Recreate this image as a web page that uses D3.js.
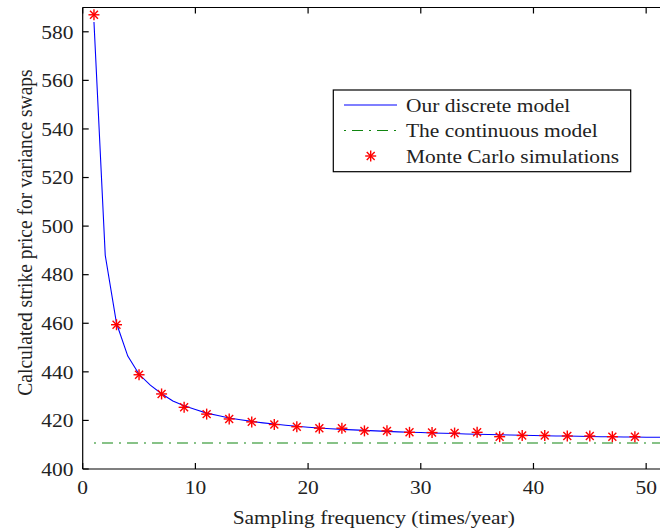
<!DOCTYPE html>
<html>
<head>
<meta charset="utf-8">
<script src="https://cdn.jsdelivr.net/npm/d3@7"></script>
<style>
  body { margin: 0; background: #fff; }
  text { font-family: "Liberation Serif", "Times New Roman", serif; fill: #222; }
</style>
</head>
<body>
<svg id="chart" width="660" height="532"></svg>
<script>
// discrete model, one value per sampling frequency 1..52
var discreteFreq = d3.range(1, 53);
var discreteVals = [584, 488, 460, 446.5, 439, 434.5, 431, 428, 426, 424.5,
  423, 422, 421, 420.3, 419.6, 419, 418.5, 418, 417.6, 417.2,
  416.9, 416.6, 416.3, 416.1, 415.9, 415.7, 415.5, 415.3, 415.1, 415,
  414.8, 414.7, 414.6, 414.4, 414.3, 414.2, 414.1, 414, 413.9, 413.8,
  413.7, 413.6, 413.6, 413.5, 413.4, 413.3, 413.3, 413.2, 413.2, 413.1,
  413.1, 413.0];

// continuous model (flat)
var continuousFreq = [1, 52];
var continuousVals = [410.7, 410.7];

// Monte Carlo simulations at odd frequencies
var mcFreq = [1, 3, 5, 7, 9, 11, 13, 15, 17, 19, 21, 23, 25, 27, 29, 31, 33, 35, 37, 39, 41, 43, 45, 47, 49];
var mcVals = [587, 459.4, 438.8, 430.9, 425.4, 422.6, 420.6, 419.4, 418.3, 417.4,
  416.8, 416.8, 415.7, 415.7, 415.1, 415.0, 414.8, 415.1, 413.3, 413.8,
  413.8, 413.6, 413.6, 413.3, 413.3];

var xTicks = [0, 10, 20, 30, 40, 50];
var yTicks = [400, 420, 440, 460, 480, 500, 520, 540, 560, 580];

var legendLabels = ["Our discrete model", "The continuous model", "Monte Carlo simulations"];

var svg = d3.select("#chart");
var plotLeft = 82.7, plotRight = 668.7, plotTop = 7.5, plotBottom = 469;
var stretch = 1.1; // picture is a little wider than tall

var x = d3.scaleLinear().domain([0, 52]).range([plotLeft, plotRight]);
var y = d3.scaleLinear().domain([400, 590]).range([plotBottom, plotTop]);

svg.append("rect").attr("width", 660).attr("height", 532).attr("fill", "#fff");

svg.append("defs").append("clipPath").attr("id", "plotclip")
  .append("rect").attr("x", plotLeft).attr("y", plotTop)
  .attr("width", plotRight - plotLeft).attr("height", plotBottom - plotTop);

var plot = svg.append("g").attr("clip-path", "url(#plotclip)");

var line = d3.line()
  .x(function (d) { return x(d[0]); })
  .y(function (d) { return y(d[1]); });

// continuous model
plot.append("path")
  .datum(d3.zip(continuousFreq, continuousVals))
  .attr("d", line)
  .attr("fill", "none")
  .attr("stroke", "#108510")
  .attr("stroke-width", 1.1)
  .attr("stroke-dasharray", "2,6,11,6");

// discrete model
plot.append("path")
  .datum(d3.zip(discreteFreq, discreteVals))
  .attr("d", line)
  .attr("fill", "none")
  .attr("stroke", "#0000ff")
  .attr("stroke-width", 1.1);

// asterisk marker
function star(g, r) {
  var a = r * 0.72;
  g.append("line").attr("x1", -r).attr("x2", r).attr("y1", 0).attr("y2", 0);
  g.append("line").attr("x1", 0).attr("x2", 0).attr("y1", -r).attr("y2", r);
  g.append("line").attr("x1", -a).attr("x2", a).attr("y1", -a).attr("y2", a);
  g.append("line").attr("x1", -a).attr("x2", a).attr("y1", a).attr("y2", -a);
}

svg.append("g").selectAll("g")
  .data(d3.zip(mcFreq, mcVals))
  .enter().append("g")
  .attr("transform", function (d) { return "translate(" + x(d[0]) + "," + y(d[1]) + ")"; })
  .attr("stroke", "#ff0000")
  .attr("stroke-width", 1.4)
  .each(function () { star(d3.select(this), 5.5); });

// axes box
var axes = svg.append("g").attr("stroke", "#000").attr("stroke-width", 1.2).attr("fill", "none");
axes.append("line").attr("x1", plotLeft).attr("x2", plotRight).attr("y1", plotBottom).attr("y2", plotBottom);
axes.append("line").attr("x1", plotLeft).attr("x2", plotRight).attr("y1", plotTop).attr("y2", plotTop);
axes.append("line").attr("x1", plotLeft).attr("x2", plotLeft).attr("y1", plotTop).attr("y2", plotBottom);

var tickLen = 6;
axes.selectAll(".xb").data(xTicks).enter().append("line")
  .attr("x1", x).attr("x2", x).attr("y1", plotBottom).attr("y2", plotBottom - tickLen);
axes.selectAll(".xt").data(xTicks).enter().append("line")
  .attr("x1", x).attr("x2", x).attr("y1", plotTop).attr("y2", plotTop + tickLen);
axes.selectAll(".yl").data(yTicks).enter().append("line")
  .attr("x1", plotLeft).attr("x2", plotLeft + tickLen).attr("y1", y).attr("y2", y);

// tick labels
var fs = 19.5;
svg.append("g").selectAll("text").data(xTicks).enter().append("text")
  .attr("transform", function (d) { return "translate(" + x(d) + ",493.5) scale(" + stretch + ",1)"; })
  .attr("text-anchor", "middle")
  .style("font-size", fs + "px")
  .text(function (d) { return d; });

svg.append("g").selectAll("text").data(yTicks).enter().append("text")
  .attr("transform", function (d) { return "translate(73.5," + (y(d) + 6.8) + ") scale(" + stretch + ",1)"; })
  .attr("text-anchor", "end")
  .style("font-size", fs + "px")
  .text(function (d) { return d; });

// axis titles
svg.append("text")
  .attr("transform", "translate(" + ((plotLeft + plotRight) / 2 - 2) + ",524) scale(" + stretch + ",1)")
  .attr("text-anchor", "middle")
  .style("font-size", fs + "px")
  .text("Sampling frequency (times/year)");

svg.append("text")
  .attr("transform", "translate(31.5,232.5) rotate(-90) scale(1," + stretch + ")")
  .attr("text-anchor", "middle")
  .style("font-size", fs + "px")
  .text("Calculated strike price for variance swaps");

// legend
var legend = svg.append("g");
legend.append("rect")
  .attr("x", 333.3).attr("y", 90)
  .attr("width", 297.4).attr("height", 81.7)
  .attr("fill", "#fff").attr("stroke", "#000").attr("stroke-width", 1.2);

var rowY = [105, 130.5, 156];
legend.append("line")
  .attr("x1", 344).attr("x2", 397).attr("y1", rowY[0]).attr("y2", rowY[0])
  .attr("stroke", "#0000ff").attr("stroke-width", 1.1);
legend.append("line")
  .attr("x1", 344).attr("x2", 397).attr("y1", rowY[1]).attr("y2", rowY[1])
  .attr("stroke", "#108510").attr("stroke-width", 1.1)
  .attr("stroke-dasharray", "2,6,11,6");
var lstar = legend.append("g")
  .attr("transform", "translate(370.7," + rowY[2] + ")")
  .attr("stroke", "#ff0000").attr("stroke-width", 1.4);
star(lstar, 5.5);

legend.selectAll("text").data(legendLabels).enter().append("text")
  .attr("transform", function (d, i) { return "translate(406," + (rowY[i] + 6.7) + ") scale(" + stretch + ",1)"; })
  .style("font-size", fs + "px")
  .text(function (d) { return d; });
</script>
</body>
</html>
